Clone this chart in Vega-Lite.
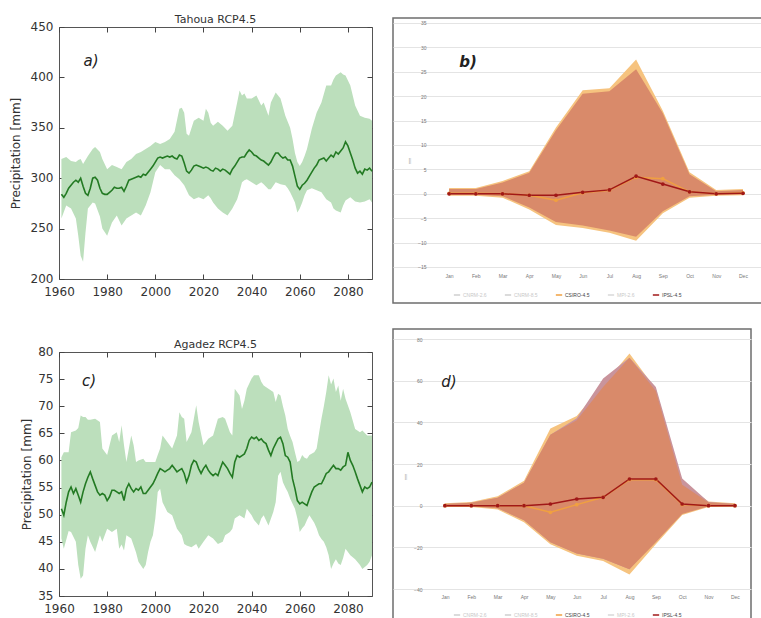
{
  "$schema": "https://vega.github.io/schema/vega-lite/v6.json",
  "background": "white",
  "padding": {"left": 8, "top": 13, "right": 0, "bottom": 0},
  "config": {
    "view": {"stroke": "#555", "strokeWidth": 1},
    "axis": {"grid": false, "domain": false, "labelFont": "DejaVu Sans", "titleFont": "DejaVu Sans", "labelFontSize": 12, "labelColor": "#333", "titleColor": "#333", "titleFontWeight": "normal", "tickColor": "#444", "labelFlush": false, "labelOverlap": false, "labelBound": false, "tickCount": 30},
    "title": {"font": "DejaVu Sans", "fontSize": 11, "fontWeight": "normal", "color": "#333", "offset": -5}
  },
  "datasets": {
    "a_mean": [
      {"y":1961,"v":284},{"y":1962,"v":281},{"y":1963,"v":285},{"y":1964,"v":290},{"y":1965,"v":293},{"y":1966,"v":296},{"y":1967,"v":298},{"y":1968,"v":296},{"y":1969,"v":300},{"y":1970,"v":292},
      {"y":1971,"v":285},{"y":1972,"v":283},{"y":1973,"v":290},{"y":1974,"v":300},{"y":1975,"v":301},{"y":1976,"v":298},{"y":1977,"v":290},{"y":1978,"v":285},{"y":1979,"v":284},{"y":1980,"v":284},
      {"y":1981,"v":286},{"y":1982,"v":288},{"y":1983,"v":291},{"y":1984,"v":290},{"y":1985,"v":290},{"y":1986,"v":291},{"y":1987,"v":287},{"y":1988,"v":292},{"y":1989,"v":298},{"y":1990,"v":299},
      {"y":1991,"v":300},{"y":1992,"v":301},{"y":1993,"v":302},{"y":1994,"v":301},{"y":1995,"v":304},{"y":1996,"v":303},{"y":1997,"v":306},{"y":1998,"v":309},{"y":1999,"v":312},{"y":2000,"v":316},
      {"y":2001,"v":320},{"y":2002,"v":321},{"y":2003,"v":320},{"y":2004,"v":321},{"y":2005,"v":322},{"y":2006,"v":321},{"y":2007,"v":322},{"y":2008,"v":320},{"y":2009,"v":319},{"y":2010,"v":323},
      {"y":2011,"v":322},{"y":2012,"v":315},{"y":2013,"v":307},{"y":2014,"v":305},{"y":2015,"v":308},{"y":2016,"v":312},{"y":2017,"v":313},{"y":2018,"v":312},{"y":2019,"v":311},{"y":2020,"v":310},
      {"y":2021,"v":311},{"y":2022,"v":310},{"y":2023,"v":308},{"y":2024,"v":307},{"y":2025,"v":310},{"y":2026,"v":309},{"y":2027,"v":307},{"y":2028,"v":309},{"y":2029,"v":308},{"y":2030,"v":306},
      {"y":2031,"v":304},{"y":2032,"v":309},{"y":2033,"v":312},{"y":2034,"v":316},{"y":2035,"v":320},{"y":2036,"v":321},{"y":2037,"v":321},{"y":2038,"v":325},{"y":2039,"v":328},{"y":2040,"v":326},
      {"y":2041,"v":323},{"y":2042,"v":322},{"y":2043,"v":320},{"y":2044,"v":318},{"y":2045,"v":317},{"y":2046,"v":315},{"y":2047,"v":313},{"y":2048,"v":316},{"y":2049,"v":321},{"y":2050,"v":325},
      {"y":2051,"v":325},{"y":2052,"v":322},{"y":2053,"v":320},{"y":2054,"v":321},{"y":2055,"v":318},{"y":2056,"v":318},{"y":2057,"v":312},{"y":2058,"v":302},{"y":2059,"v":292},{"y":2060,"v":289},
      {"y":2061,"v":293},{"y":2062,"v":295},{"y":2063,"v":298},{"y":2064,"v":302},{"y":2065,"v":306},{"y":2066,"v":310},{"y":2067,"v":313},{"y":2068,"v":318},{"y":2069,"v":319},{"y":2070,"v":320},
      {"y":2071,"v":317},{"y":2072,"v":320},{"y":2073,"v":323},{"y":2074,"v":321},{"y":2075,"v":326},{"y":2076,"v":324},{"y":2077,"v":327},{"y":2078,"v":330},{"y":2079,"v":336},{"y":2080,"v":332},
      {"y":2081,"v":325},{"y":2082,"v":318},{"y":2083,"v":310},{"y":2084,"v":305},{"y":2085,"v":307},{"y":2086,"v":304},{"y":2087,"v":309},{"y":2088,"v":308},{"y":2089,"v":310},{"y":2090,"v":307}
    ],
    "a_band": [
      {"y":1961,"lo":260,"hi":319},{"y":1963,"lo":273,"hi":321},{"y":1965,"lo":270,"hi":317},{"y":1967,"lo":260,"hi":316},{"y":1968,"lo":243,"hi":318},{"y":1969,"lo":223,"hi":319},{"y":1970,"lo":217,"hi":314},{"y":1971,"lo":246,"hi":318},{"y":1972,"lo":270,"hi":322},{"y":1974,"lo":276,"hi":329},
      {"y":1975,"lo":275,"hi":331},{"y":1977,"lo":262,"hi":326},{"y":1978,"lo":250,"hi":319},{"y":1980,"lo":243,"hi":309},{"y":1982,"lo":256,"hi":313},{"y":1984,"lo":263,"hi":311},{"y":1986,"lo":253,"hi":309},{"y":1988,"lo":260,"hi":316},{"y":1990,"lo":263,"hi":319},{"y":1992,"lo":266,"hi":324},
      {"y":1994,"lo":263,"hi":326},{"y":1996,"lo":273,"hi":329},{"y":1998,"lo":286,"hi":332},{"y":2000,"lo":306,"hi":336},{"y":2002,"lo":313,"hi":334},{"y":2004,"lo":309,"hi":336},{"y":2006,"lo":309,"hi":339},{"y":2008,"lo":303,"hi":346},{"y":2010,"lo":299,"hi":369},{"y":2011,"lo":296,"hi":370},
      {"y":2012,"lo":293,"hi":365},{"y":2013,"lo":288,"hi":344},{"y":2014,"lo":283,"hi":342},{"y":2016,"lo":279,"hi":357},{"y":2018,"lo":281,"hi":360},{"y":2020,"lo":279,"hi":357},{"y":2021,"lo":281,"hi":369},{"y":2022,"lo":283,"hi":365},{"y":2023,"lo":280,"hi":355},{"y":2024,"lo":276,"hi":352},
      {"y":2026,"lo":270,"hi":356},{"y":2028,"lo":266,"hi":352},{"y":2030,"lo":263,"hi":347},{"y":2032,"lo":270,"hi":352},{"y":2034,"lo":279,"hi":375},{"y":2035,"lo":287,"hi":387},{"y":2036,"lo":296,"hi":382},{"y":2037,"lo":298,"hi":384},{"y":2038,"lo":299,"hi":379},{"y":2040,"lo":296,"hi":379},
      {"y":2042,"lo":293,"hi":382},{"y":2044,"lo":296,"hi":372},{"y":2045,"lo":294,"hi":375},{"y":2047,"lo":289,"hi":362},{"y":2048,"lo":289,"hi":375},{"y":2050,"lo":296,"hi":385},{"y":2052,"lo":294,"hi":379},{"y":2054,"lo":293,"hi":362},{"y":2055,"lo":290,"hi":356},{"y":2056,"lo":286,"hi":350},
      {"y":2057,"lo":281,"hi":339},{"y":2058,"lo":276,"hi":325},{"y":2059,"lo":266,"hi":316},{"y":2060,"lo":270,"hi":312},{"y":2061,"lo":276,"hi":316},{"y":2062,"lo":283,"hi":322},{"y":2063,"lo":288,"hi":329},{"y":2065,"lo":290,"hi":349},{"y":2067,"lo":288,"hi":365},{"y":2069,"lo":286,"hi":375},
      {"y":2071,"lo":279,"hi":392},{"y":2073,"lo":276,"hi":392},{"y":2074,"lo":270,"hi":398},{"y":2075,"lo":268,"hi":402},{"y":2077,"lo":266,"hi":405},{"y":2078,"lo":273,"hi":403},{"y":2079,"lo":278,"hi":402},{"y":2081,"lo":281,"hi":392},{"y":2083,"lo":277,"hi":372},{"y":2085,"lo":276,"hi":362},
      {"y":2087,"lo":277,"hi":360},{"y":2089,"lo":279,"hi":359},{"y":2090,"lo":276,"hi":357}
    ],
    "c_mean": [
      {"y":1961,"v":51.1},{"y":1962,"v":49.9},{"y":1963,"v":52.3},{"y":1964,"v":54.2},{"y":1965,"v":55.1},{"y":1966,"v":53.9},{"y":1967,"v":54.8},{"y":1968,"v":53.6},{"y":1969,"v":52.3},{"y":1970,"v":54.2},
      {"y":1971,"v":55.7},{"y":1972,"v":56.9},{"y":1973,"v":57.9},{"y":1974,"v":56.6},{"y":1975,"v":55.4},{"y":1976,"v":54.2},{"y":1977,"v":53.6},{"y":1978,"v":53.9},{"y":1979,"v":53.6},{"y":1980,"v":52.6},
      {"y":1981,"v":53.3},{"y":1982,"v":54.5},{"y":1983,"v":54.5},{"y":1984,"v":54.2},{"y":1985,"v":53.9},{"y":1986,"v":54.2},{"y":1987,"v":52.6},{"y":1988,"v":54.8},{"y":1989,"v":55.7},{"y":1990,"v":54.8},
      {"y":1991,"v":54.2},{"y":1992,"v":54.8},{"y":1993,"v":54.5},{"y":1994,"v":55.1},{"y":1995,"v":53.9},{"y":1996,"v":53.9},{"y":1997,"v":54.5},{"y":1998,"v":55.1},{"y":1999,"v":55.7},{"y":2000,"v":56.6},
      {"y":2001,"v":57.6},{"y":2002,"v":58.5},{"y":2003,"v":58.2},{"y":2004,"v":57.9},{"y":2005,"v":58.2},{"y":2006,"v":58.5},{"y":2007,"v":59.1},{"y":2008,"v":58.5},{"y":2009,"v":57.9},{"y":2010,"v":58.2},
      {"y":2011,"v":58.5},{"y":2012,"v":57.6},{"y":2013,"v":56.0},{"y":2014,"v":57.2},{"y":2015,"v":59.1},{"y":2016,"v":60.0},{"y":2017,"v":59.7},{"y":2018,"v":58.5},{"y":2019,"v":57.6},{"y":2020,"v":58.5},
      {"y":2021,"v":59.1},{"y":2022,"v":58.2},{"y":2023,"v":57.6},{"y":2024,"v":57.2},{"y":2025,"v":57.6},{"y":2026,"v":57.2},{"y":2027,"v":58.5},{"y":2028,"v":59.7},{"y":2029,"v":59.1},{"y":2030,"v":58.5},
      {"y":2031,"v":57.6},{"y":2032,"v":56.9},{"y":2033,"v":59.7},{"y":2034,"v":60.9},{"y":2035,"v":60.6},{"y":2036,"v":60.9},{"y":2037,"v":61.2},{"y":2038,"v":62.2},{"y":2039,"v":63.7},{"y":2040,"v":64.3},
      {"y":2041,"v":64.0},{"y":2042,"v":64.3},{"y":2043,"v":63.7},{"y":2044,"v":64.0},{"y":2045,"v":63.4},{"y":2046,"v":63.1},{"y":2047,"v":61.9},{"y":2048,"v":60.9},{"y":2049,"v":62.2},{"y":2050,"v":63.1},
      {"y":2051,"v":64.0},{"y":2052,"v":64.3},{"y":2053,"v":63.1},{"y":2054,"v":60.9},{"y":2055,"v":60.6},{"y":2056,"v":59.7},{"y":2057,"v":56.6},{"y":2058,"v":54.8},{"y":2059,"v":52.6},{"y":2060,"v":52.0},
      {"y":2061,"v":52.3},{"y":2062,"v":52.0},{"y":2063,"v":51.7},{"y":2064,"v":53.0},{"y":2065,"v":54.2},{"y":2066,"v":55.1},{"y":2067,"v":55.4},{"y":2068,"v":55.7},{"y":2069,"v":55.7},{"y":2070,"v":56.6},
      {"y":2071,"v":57.6},{"y":2072,"v":57.9},{"y":2073,"v":58.5},{"y":2074,"v":59.1},{"y":2075,"v":58.5},{"y":2076,"v":58.5},{"y":2077,"v":58.2},{"y":2078,"v":58.8},{"y":2079,"v":59.1},{"y":2080,"v":61.5},
      {"y":2081,"v":60.0},{"y":2082,"v":59.1},{"y":2083,"v":57.9},{"y":2084,"v":56.6},{"y":2085,"v":55.4},{"y":2086,"v":54.2},{"y":2087,"v":55.1},{"y":2088,"v":54.8},{"y":2089,"v":55.1},{"y":2090,"v":56.0}
    ],
    "c_band": [
      {"y":1961,"lo":45.6,"hi":60.6},{"y":1962,"lo":43.7,"hi":61.5},{"y":1964,"lo":47.0,"hi":61.5},{"y":1965,"lo":46.8,"hi":65.2},{"y":1967,"lo":45.0,"hi":65.5},{"y":1968,"lo":40.7,"hi":66.0},{"y":1969,"lo":38.2,"hi":68.3},{"y":1970,"lo":38.8,"hi":68.0},{"y":1971,"lo":43.7,"hi":68.0},{"y":1972,"lo":46.2,"hi":67.5},
      {"y":1973,"lo":45.0,"hi":67.5},{"y":1975,"lo":43.1,"hi":67.7},{"y":1977,"lo":46.2,"hi":67.1},{"y":1978,"lo":45.0,"hi":62.2},{"y":1980,"lo":47.4,"hi":61.0},{"y":1982,"lo":46.8,"hi":64.6},{"y":1984,"lo":47.4,"hi":65.2},{"y":1985,"lo":43.7,"hi":63.4},{"y":1986,"lo":44.5,"hi":66.5},{"y":1987,"lo":43.4,"hi":62.8},
      {"y":1988,"lo":46.2,"hi":59.7},{"y":1990,"lo":45.6,"hi":64.6},{"y":1991,"lo":44.3,"hi":62.8},{"y":1992,"lo":43.0,"hi":59.7},{"y":1993,"lo":41.3,"hi":60.0},{"y":1995,"lo":40.0,"hi":60.3},{"y":1996,"lo":40.7,"hi":59.7},{"y":1997,"lo":43.1,"hi":59.7},{"y":1998,"lo":45.0,"hi":59.7},{"y":1999,"lo":46.2,"hi":59.7},
      {"y":2000,"lo":49.3,"hi":59.7},{"y":2001,"lo":54.2,"hi":61.0},{"y":2002,"lo":54.8,"hi":62.2},{"y":2003,"lo":52.3,"hi":64.6},{"y":2005,"lo":50.5,"hi":63.4},{"y":2007,"lo":49.9,"hi":62.2},{"y":2009,"lo":47.4,"hi":64.6},{"y":2010,"lo":46.8,"hi":68.9},{"y":2011,"lo":46.2,"hi":68.0},{"y":2012,"lo":44.6,"hi":67.7},
      {"y":2013,"lo":44.3,"hi":63.4},{"y":2015,"lo":44.0,"hi":65.2},{"y":2017,"lo":44.6,"hi":70.2},{"y":2018,"lo":43.7,"hi":67.1},{"y":2020,"lo":45.0,"hi":62.8},{"y":2022,"lo":46.2,"hi":64.0},{"y":2024,"lo":45.6,"hi":64.6},{"y":2026,"lo":44.6,"hi":67.7},{"y":2028,"lo":45.0,"hi":68.0},{"y":2029,"lo":46.2,"hi":67.7},
      {"y":2031,"lo":46.8,"hi":65.2},{"y":2032,"lo":47.4,"hi":64.6},{"y":2033,"lo":49.3,"hi":73.2},{"y":2035,"lo":49.9,"hi":72.0},{"y":2036,"lo":49.6,"hi":69.5},{"y":2037,"lo":49.3,"hi":71.0},{"y":2038,"lo":51.1,"hi":73.2},{"y":2040,"lo":49.9,"hi":75.1},{"y":2041,"lo":49.0,"hi":75.7},{"y":2043,"lo":48.0,"hi":75.7},
      {"y":2044,"lo":49.3,"hi":74.5},{"y":2045,"lo":49.9,"hi":73.8},{"y":2047,"lo":48.0,"hi":73.2},{"y":2049,"lo":50.5,"hi":72.6},{"y":2050,"lo":52.3,"hi":70.8},{"y":2051,"lo":57.2,"hi":72.3},{"y":2052,"lo":57.9,"hi":72.0},{"y":2053,"lo":56.0,"hi":70.0},{"y":2054,"lo":55.0,"hi":68.3},{"y":2055,"lo":54.2,"hi":65.8},
      {"y":2056,"lo":53.0,"hi":64.5},{"y":2057,"lo":52.0,"hi":63.4},{"y":2058,"lo":51.1,"hi":61.5},{"y":2059,"lo":49.3,"hi":59.7},{"y":2060,"lo":46.8,"hi":60.0},{"y":2061,"lo":47.5,"hi":61.0},{"y":2062,"lo":48.0,"hi":60.5},{"y":2063,"lo":49.0,"hi":60.3},{"y":2064,"lo":49.9,"hi":61.0},{"y":2066,"lo":48.5,"hi":61.5},
      {"y":2067,"lo":47.5,"hi":62.2},{"y":2068,"lo":46.2,"hi":65.0},{"y":2069,"lo":45.5,"hi":67.7},{"y":2070,"lo":45.0,"hi":70.0},{"y":2071,"lo":44.0,"hi":72.6},{"y":2072,"lo":42.5,"hi":75.7},{"y":2073,"lo":40.0,"hi":74.0},{"y":2074,"lo":41.0,"hi":75.1},{"y":2075,"lo":41.8,"hi":72.6},{"y":2076,"lo":41.0,"hi":73.8},
      {"y":2077,"lo":40.7,"hi":71.0},{"y":2078,"lo":42.0,"hi":73.2},{"y":2079,"lo":43.7,"hi":71.4},{"y":2081,"lo":42.5,"hi":68.9},{"y":2083,"lo":41.8,"hi":65.8},{"y":2085,"lo":40.7,"hi":65.2},{"y":2086,"lo":40.0,"hi":65.5},{"y":2088,"lo":40.7,"hi":64.6},{"y":2089,"lo":41.3,"hi":64.6},{"y":2090,"lo":42.5,"hi":64.6}
    ],
    "b_band": [
      {"m":1,"band":"y","lo":-0.4,"hi":1.2},{"m":2,"band":"y","lo":-0.4,"hi":1.2},{"m":3,"band":"y","lo":-0.8,"hi":2.6},{"m":4,"band":"y","lo":-3.2,"hi":4.6},{"m":5,"band":"y","lo":-6.4,"hi":13.6},{"m":6,"band":"y","lo":-7.0,"hi":21.2},
      {"m":7,"band":"y","lo":-8.0,"hi":21.6},{"m":8,"band":"y","lo":-9.6,"hi":27.5},{"m":9,"band":"y","lo":-4.0,"hi":17.0},{"m":10,"band":"y","lo":-0.8,"hi":4.4},{"m":11,"band":"y","lo":-0.4,"hi":0.8},{"m":12,"band":"y","lo":-0.3,"hi":1.0},
      {"m":1,"band":"s","lo":-0.2,"hi":1.0},{"m":2,"band":"s","lo":-0.2,"hi":1.0},{"m":3,"band":"s","lo":-0.5,"hi":2.3},{"m":4,"band":"s","lo":-2.8,"hi":4.3},{"m":5,"band":"s","lo":-5.8,"hi":13.0},{"m":6,"band":"s","lo":-6.5,"hi":20.5},
      {"m":7,"band":"s","lo":-7.5,"hi":21.0},{"m":8,"band":"s","lo":-8.8,"hi":25.5},{"m":9,"band":"s","lo":-3.6,"hi":16.5},{"m":10,"band":"s","lo":-0.5,"hi":4.0},{"m":11,"band":"s","lo":-0.2,"hi":0.5},{"m":12,"band":"s","lo":-0.1,"hi":0.8}
    ],
    "b_line": [
      {"m":1,"model":"CSIRO-4.5","v":0.1},{"m":2,"model":"CSIRO-4.5","v":0.1},{"m":3,"model":"CSIRO-4.5","v":0},{"m":4,"model":"CSIRO-4.5","v":-0.3},{"m":5,"model":"CSIRO-4.5","v":-1.3},{"m":6,"model":"CSIRO-4.5","v":0.2},
      {"m":7,"model":"CSIRO-4.5","v":0.7},{"m":8,"model":"CSIRO-4.5","v":3.4},{"m":9,"model":"CSIRO-4.5","v":3.1},{"m":10,"model":"CSIRO-4.5","v":0.4},{"m":11,"model":"CSIRO-4.5","v":0},{"m":12,"model":"CSIRO-4.5","v":0.2},
      {"m":1,"model":"IPSL-4.5","v":0},{"m":2,"model":"IPSL-4.5","v":0},{"m":3,"model":"IPSL-4.5","v":0},{"m":4,"model":"IPSL-4.5","v":-0.3},{"m":5,"model":"IPSL-4.5","v":-0.3},{"m":6,"model":"IPSL-4.5","v":0.3},
      {"m":7,"model":"IPSL-4.5","v":0.8},{"m":8,"model":"IPSL-4.5","v":3.6},{"m":9,"model":"IPSL-4.5","v":2.0},{"m":10,"model":"IPSL-4.5","v":0.4},{"m":11,"model":"IPSL-4.5","v":0},{"m":12,"model":"IPSL-4.5","v":0.1}
    ],
    "d_band": [
      {"m":1,"band":"y","lo":-0.6,"hi":1.2},{"m":2,"band":"y","lo":-0.6,"hi":1.8},{"m":3,"band":"y","lo":-1.8,"hi":4.5},{"m":4,"band":"y","lo":-8,"hi":12},{"m":5,"band":"y","lo":-18.5,"hi":37},{"m":6,"band":"y","lo":-24,"hi":43},
      {"m":7,"band":"y","lo":-26.5,"hi":58},{"m":8,"band":"y","lo":-33,"hi":73},{"m":9,"band":"y","lo":-18.5,"hi":56},{"m":10,"band":"y","lo":-4.5,"hi":11},{"m":11,"band":"y","lo":-0.6,"hi":2},{"m":12,"band":"y","lo":-0.3,"hi":1.2},
      {"m":1,"band":"p","lo":-0.3,"hi":0.8},{"m":2,"band":"p","lo":-0.3,"hi":1.4},{"m":3,"band":"p","lo":-1.2,"hi":3.8},{"m":4,"band":"p","lo":-7,"hi":11},{"m":5,"band":"p","lo":-17.5,"hi":34},{"m":6,"band":"p","lo":-23,"hi":42},
      {"m":7,"band":"p","lo":-25.5,"hi":61},{"m":8,"band":"p","lo":-30.5,"hi":71},{"m":9,"band":"p","lo":-16,"hi":57},{"m":10,"band":"p","lo":-3.5,"hi":13},{"m":11,"band":"p","lo":-0.3,"hi":1.8},{"m":12,"band":"p","lo":0,"hi":0.8},
      {"m":1,"band":"s","lo":-0.3,"hi":0.8},{"m":2,"band":"s","lo":-0.3,"hi":1.4},{"m":3,"band":"s","lo":-1.2,"hi":3.8},{"m":4,"band":"s","lo":-7,"hi":11},{"m":5,"band":"s","lo":-17.5,"hi":34},{"m":6,"band":"s","lo":-23,"hi":41},
      {"m":7,"band":"s","lo":-25.5,"hi":57},{"m":8,"band":"s","lo":-30.5,"hi":71},{"m":9,"band":"s","lo":-17.5,"hi":55},{"m":10,"band":"s","lo":-4,"hi":10},{"m":11,"band":"s","lo":-0.3,"hi":1.5},{"m":12,"band":"s","lo":0,"hi":0.8}
    ],
    "d_line": [
      {"m":1,"model":"CSIRO-4.5","v":0},{"m":2,"model":"CSIRO-4.5","v":0},{"m":3,"model":"CSIRO-4.5","v":0},{"m":4,"model":"CSIRO-4.5","v":0},{"m":5,"model":"CSIRO-4.5","v":-3.2},{"m":6,"model":"CSIRO-4.5","v":0.5},
      {"m":7,"model":"CSIRO-4.5","v":4},{"m":8,"model":"CSIRO-4.5","v":12.5},{"m":9,"model":"CSIRO-4.5","v":12.5},{"m":10,"model":"CSIRO-4.5","v":0.5},{"m":11,"model":"CSIRO-4.5","v":0},{"m":12,"model":"CSIRO-4.5","v":0},
      {"m":1,"model":"IPSL-4.5","v":0},{"m":2,"model":"IPSL-4.5","v":0},{"m":3,"model":"IPSL-4.5","v":0},{"m":4,"model":"IPSL-4.5","v":0},{"m":5,"model":"IPSL-4.5","v":0.8},{"m":6,"model":"IPSL-4.5","v":3.2},
      {"m":7,"model":"IPSL-4.5","v":4},{"m":8,"model":"IPSL-4.5","v":12.8},{"m":9,"model":"IPSL-4.5","v":12.8},{"m":10,"model":"IPSL-4.5","v":0.8},{"m":11,"model":"IPSL-4.5","v":0},{"m":12,"model":"IPSL-4.5","v":0}
    ]
  },
  "spacing": 16,
  "resolve": {"scale": {"x": "independent", "y": "independent", "color": "independent"}, "axis": {"x": "independent", "y": "independent"}, "legend": {"color": "independent"}},
  "hconcat": [
    {
      "vconcat": [
        {
          "width": 313, "height": 1,
          "view": {"stroke": null},
          "data": {"values": [{}]},
          "mark": {"type": "point", "opacity": 0},
          "encoding": {}
        },
        {
          "vconcat": [
            {
              "title": {"text": "Tahoua RCP4.5"},
              "width": 313, "height": 252,
              "resolve": {"axis": {"x": "independent", "y": "independent"}},
              "layer": [
                {
                  "data": {"name": "a_band"},
                  "mark": {"type": "area", "color": "#bcdfbc", "opacity": 1},
                  "encoding": {
                    "x": {"field": "y", "type": "quantitative", "scale": {"domain": [1960, 2090], "nice": false, "zero": false}, "axis": {"values": [1960,1980,2000,2020,2040,2060,2080], "tickCount": 30, "format": "d", "tickSize": -5, "labelPadding": 12, "title": null}},
                    "y": {"field": "lo", "type": "quantitative", "scale": {"domain": [200, 450], "nice": false, "zero": false}, "axis": {"values": [200,250,300,350,400,450], "tickCount": 30, "tickSize": -5, "labelPadding": 11, "labelOffset": -1, "title": "Precipitation [mm]", "titleFontSize": 12, "titlePadding": 8}},
                    "y2": {"field": "hi"}
                  }
                },
                {
                  "data": {"name": "a_mean"},
                  "mark": {"type": "line", "color": "#237a23", "strokeWidth": 1.6},
                  "encoding": {
                    "x": {"field": "y", "type": "quantitative", "axis": {"orient": "top", "values": [1960,1980,2000,2020,2040,2060,2080], "tickCount": 30, "labels": false, "tickSize": -5, "title": null}},
                    "y": {"field": "v", "type": "quantitative", "axis": {"orient": "right", "values": [200,250,300,350,400,450], "tickCount": 30, "labels": false, "tickSize": -5, "title": null}}
                  }
                },
                {
                  "data": {"values": [{}]},
                  "mark": {"type": "text", "text": "a)", "font": "DejaVu Sans", "fontSize": 15, "fontStyle": "italic", "color": "#222"},
                  "encoding": {"x": {"datum": 1973.3, "axis": null}, "y": {"datum": 416, "axis": null}}
                }
              ]
            },
            {
              "title": {"text": "Agadez RCP4.5"},
              "width": 313, "height": 244,
              "resolve": {"axis": {"x": "independent", "y": "independent"}},
              "layer": [
                {
                  "data": {"name": "c_band"},
                  "mark": {"type": "area", "color": "#bcdfbc", "opacity": 1},
                  "encoding": {
                    "x": {"field": "y", "type": "quantitative", "scale": {"domain": [1960, 2090], "nice": false, "zero": false}, "axis": {"values": [1960,1980,2000,2020,2040,2060,2080], "tickCount": 30, "format": "d", "tickSize": -5, "labelPadding": 12, "title": null}},
                    "y": {"field": "lo", "type": "quantitative", "scale": {"domain": [35, 80], "nice": false, "zero": false}, "axis": {"values": [35,40,45,50,55,60,65,70,75,80], "tickCount": 30, "tickSize": -5, "labelPadding": 11, "labelOffset": -1, "title": "Precipitation [mm]", "titleFontSize": 12, "titlePadding": 4}},
                    "y2": {"field": "hi"}
                  }
                },
                {
                  "data": {"name": "c_mean"},
                  "mark": {"type": "line", "color": "#237a23", "strokeWidth": 1.6},
                  "encoding": {
                    "x": {"field": "y", "type": "quantitative", "axis": {"orient": "top", "values": [1960,1980,2000,2020,2040,2060,2080], "tickCount": 30, "labels": false, "tickSize": -5, "title": null}},
                    "y": {"field": "v", "type": "quantitative", "axis": {"orient": "right", "values": [35,40,45,50,55,60,65,70,75,80], "tickCount": 30, "labels": false, "tickSize": -5, "title": null}}
                  }
                },
                {
                  "data": {"values": [{}]},
                  "mark": {"type": "text", "text": "c)", "font": "DejaVu Sans", "fontSize": 15, "fontStyle": "italic", "color": "#222"},
                  "encoding": {"x": {"datum": 1972.5, "axis": null}, "y": {"datum": 74.6, "axis": null}}
                }
              ]
            }
          ],
          "spacing": 73,
          "bounds": "flush",
          "resolve": {"scale": {"x": "independent", "y": "independent"}, "axis": {"x": "independent", "y": "independent"}}
        }
      ],
      "spacing": 8,
      "bounds": "flush",
      "resolve": {"scale": {"x": "independent", "y": "independent"}, "axis": {"x": "independent", "y": "independent"}}
    },
    {
      "vconcat": [
        {
          "width": 370, "height": 285,
          "view": {"stroke": "#6e6e6e", "strokeWidth": 1.5},
          "layer": [
            {
              "data": {"name": "b_band"},
              "transform": [{"filter": "datum.band == 'y'"}],
              "mark": {"type": "area", "color": "#f6c37f", "opacity": 1},
              "encoding": {
                "x": {"field": "m", "type": "quantitative", "scale": {"domain": [-1.1, 12.75], "nice": false, "zero": false}, "axis": {"values": [1,2,3,4,5,6,7,8,9,10,11,12], "tickCount": 30, "labelExpr": "['Jan','Feb','Mar','Apr','May','Jun','Jul','Aug','Sep','Oct','Nov','Dec'][datum.value-1]", "offset": -30, "ticks": false, "labelPadding": 0, "labelFont": "Liberation Sans", "labelFontSize": 5, "labelColor": "#777", "labelOverlap": false, "title": null}},
                "y": {"field": "lo", "type": "quantitative", "scale": {"domain": [-22.38, 36.02], "nice": false, "zero": false}, "axis": {"values": [-15,-10,-5,0,5,10,15,20,25,30,35], "tickCount": 30, "offset": -35, "ticks": false, "labelPadding": 2, "labelFont": "Liberation Sans", "labelFontSize": 5, "labelColor": "#777", "labelOverlap": false, "grid": true, "gridColor": "#e4e4e4", "title": "mm", "titleFont": "Liberation Sans", "titleFontSize": 4, "titleColor": "#888", "titlePadding": 6}},
                "y2": {"field": "hi"}
              }
            },
            {
              "data": {"name": "b_band"},
              "transform": [{"filter": "datum.band == 's'"}],
              "mark": {"type": "area", "color": "#d98a6a", "opacity": 1},
              "encoding": {
                "x": {"field": "m", "type": "quantitative"},
                "y": {"field": "lo", "type": "quantitative"},
                "y2": {"field": "hi"}
              }
            },
            {
              "data": {"name": "b_line"},
              "mark": {"type": "line", "strokeWidth": 1.5, "point": {"filled": true, "size": 14}},
              "encoding": {
                "x": {"field": "m", "type": "quantitative"},
                "y": {"field": "v", "type": "quantitative"},
                "color": {"field": "model", "type": "nominal",
                  "scale": {"domain": ["CNRM-2.6", "CNRM-8.5", "CSIRO-4.5", "MPI-2.6", "IPSL-4.5"], "range": ["#cfcfcf", "#cfcfcf", "#f0a040", "#d8d8d8", "#a01818"]},
                  "legend": {"orient": "none", "legendX": 60, "legendY": 273, "direction": "horizontal", "columns": 5, "title": null, "labelFont": "Liberation Sans", "labelFontSize": 5, "symbolType": "stroke", "symbolSize": 40, "symbolStrokeWidth": 1.5, "columnPadding": 14, "labelOffset": 2,
                    "encode": {"labels": {"update": {"fill": {"signal": "datum.label == 'CSIRO-4.5' || datum.label == 'IPSL-4.5' ? '#444' : '#c8c8c8'"}}}}}
                }
              }
            },
            {
              "data": {"values": [{}]},
              "mark": {"type": "text", "text": "b)", "font": "DejaVu Sans", "fontSize": 15, "fontStyle": "italic", "fontWeight": "bold", "color": "#222"},
              "encoding": {"x": {"datum": 1.71}, "y": {"datum": 27}}
            }
          ]
        },
        {
          "width": 358, "height": 295,
          "view": {"stroke": "#6e6e6e", "strokeWidth": 1.5},
          "layer": [
            {
              "data": {"name": "d_band"},
              "transform": [{"filter": "datum.band == 'y'"}],
              "mark": {"type": "area", "color": "#f6c37f", "opacity": 1},
              "encoding": {
                "x": {"field": "m", "type": "quantitative", "scale": {"domain": [-0.97, 12.61], "nice": false, "zero": false}, "axis": {"values": [1,2,3,4,5,6,7,8,9,10,11,12], "tickCount": 30, "labelExpr": "['Jan','Feb','Mar','Apr','May','Jun','Jul','Aug','Sep','Oct','Nov','Dec'][datum.value-1]", "offset": -30, "ticks": false, "labelPadding": 0, "labelFont": "Liberation Sans", "labelFontSize": 5, "labelColor": "#777", "labelOverlap": false, "title": null}},
                "y": {"field": "lo", "type": "quantitative", "scale": {"domain": [-56.8, 84.8], "nice": false, "zero": false}, "axis": {"values": [-40,-20,0,20,40,60,80], "tickCount": 30, "offset": -31, "ticks": false, "labelPadding": 2, "labelFont": "Liberation Sans", "labelFontSize": 5, "labelColor": "#777", "labelOverlap": false, "grid": true, "gridColor": "#e4e4e4", "title": "mm", "titleFont": "Liberation Sans", "titleFontSize": 4, "titleColor": "#888", "titlePadding": 6}},
                "y2": {"field": "hi"}
              }
            },
            {
              "data": {"name": "d_band"},
              "transform": [{"filter": "datum.band == 'p'"}],
              "mark": {"type": "area", "color": "#c9949c", "opacity": 1},
              "encoding": {
                "x": {"field": "m", "type": "quantitative"},
                "y": {"field": "lo", "type": "quantitative"},
                "y2": {"field": "hi"}
              }
            },
            {
              "data": {"name": "d_band"},
              "transform": [{"filter": "datum.band == 's'"}],
              "mark": {"type": "area", "color": "#d98a6a", "opacity": 1},
              "encoding": {
                "x": {"field": "m", "type": "quantitative"},
                "y": {"field": "lo", "type": "quantitative"},
                "y2": {"field": "hi"}
              }
            },
            {
              "data": {"name": "d_line"},
              "mark": {"type": "line", "strokeWidth": 1.5, "point": {"filled": true, "size": 14}},
              "encoding": {
                "x": {"field": "m", "type": "quantitative"},
                "y": {"field": "v", "type": "quantitative"},
                "color": {"field": "model", "type": "nominal",
                  "scale": {"domain": ["CNRM-2.6", "CNRM-8.5", "CSIRO-4.5", "MPI-2.6", "IPSL-4.5"], "range": ["#cfcfcf", "#cfcfcf", "#f0a040", "#d8d8d8", "#a01818"]},
                  "legend": {"orient": "none", "legendX": 60, "legendY": 282, "direction": "horizontal", "columns": 5, "title": null, "labelFont": "Liberation Sans", "labelFontSize": 5, "symbolType": "stroke", "symbolSize": 40, "symbolStrokeWidth": 1.5, "columnPadding": 14, "labelOffset": 2,
                    "encode": {"labels": {"update": {"fill": {"signal": "datum.label == 'CSIRO-4.5' || datum.label == 'IPSL-4.5' ? '#444' : '#c8c8c8'"}}}}}
                }
              }
            },
            {
              "data": {"values": [{}]},
              "mark": {"type": "text", "text": "d)", "font": "DejaVu Sans", "fontSize": 15, "fontStyle": "italic", "color": "#222"},
              "encoding": {"x": {"datum": 1.15}, "y": {"datum": 59.4}}
            }
          ]
        }
      ],
      "spacing": 26,
      "bounds": "flush",
      "resolve": {"scale": {"x": "independent", "y": "independent", "color": "independent"}, "axis": {"x": "independent", "y": "independent"}, "legend": {"color": "independent"}}
    }
  ]
}
